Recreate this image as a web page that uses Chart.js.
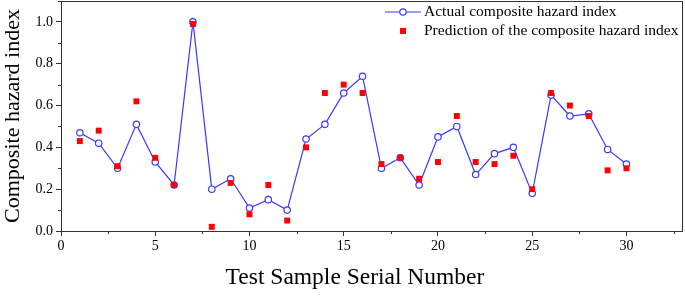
<!DOCTYPE html>
<html>
<head>
<meta charset="utf-8">
<script src="https://cdn.jsdelivr.net/npm/chart.js@4.4.0/dist/chart.umd.min.js"></script>
<style>
  html, body { margin: 0; padding: 0; background: #fff; }
  #wrap { width: 685px; height: 297px; position: relative; }
</style>
</head>
<body>
<div id="wrap"><canvas id="hazardChart"></canvas></div>
<script>
// Test sample serial numbers
const samples = [1, 2, 3, 4, 5, 6, 7, 8, 9, 10, 11, 12, 13, 14, 15,
                 16, 17, 18, 19, 20, 21, 22, 23, 24, 25, 26, 27, 28, 29, 30];

// Actual composite hazard index (blue circles)
const actual = [0.47, 0.42, 0.30, 0.51, 0.33, 0.22, 1.00, 0.20, 0.25, 0.11,
                0.15, 0.10, 0.44, 0.51, 0.66, 0.74, 0.30, 0.35, 0.22, 0.45,
                0.50, 0.27, 0.37, 0.40, 0.18, 0.65, 0.55, 0.56, 0.39, 0.32];

// Predicted composite hazard index (red squares)
const predicted = [0.43, 0.48, 0.31, 0.62, 0.35, 0.22, 0.99, 0.02, 0.23, 0.08,
                   0.22, 0.05, 0.40, 0.66, 0.70, 0.66, 0.32, 0.35, 0.25, 0.33,
                   0.55, 0.33, 0.32, 0.36, 0.20, 0.66, 0.60, 0.55, 0.29, 0.30];

const xTickValues = [0, 5, 10, 15, 20, 25, 30];
const yTickValues = [0, 0.2, 0.4, 0.6, 0.8, 1.0];

const seriesNames = ['Actual composite hazard index', 'Prediction of the composite hazard index'];
const xTitle = 'Test Sample Serial Number';
const yTitle = 'Composite hazard index';

const BLUE = '#3a3aff';
const RED = '#ff0000';
const AXIS = '#333333';
const FONT = '"Liberation Serif", "Times New Roman", serif';

const toPoints = (ys) => ys.map((y, i) => ({ x: samples[i], y: y }));

// frame, minor ticks, x title and in-plot legend
const decorPlugin = {
    id: 'decor',
    afterDraw(chart) {
        const ctx = chart.ctx;
        const area = chart.chartArea;
        const xs = chart.scales.x;
        const ys = chart.scales.y;
        ctx.save();

        // frame around the plot
        ctx.strokeStyle = AXIS;
        ctx.lineWidth = 1;
        ctx.strokeRect(area.left + 0.5, area.top + 0.5, area.right - area.left - 1, area.bottom - area.top);

        // minor ticks
        ctx.beginPath();
        for (let v = 2.5; v < xs.max; v += 5) {
            const px = Math.round(xs.getPixelForValue(v)) + 0.5;
            ctx.moveTo(px, area.bottom);
            ctx.lineTo(px, area.bottom + 3);
        }
        for (let v = 0.1; v < ys.max; v += 0.2) {
            const py = Math.round(ys.getPixelForValue(v)) + 0.5;
            ctx.moveTo(area.left, py);
            ctx.lineTo(area.left - 3, py);
        }
        ctx.stroke();

        // x axis title (sits a little left of the plot centre in the original)
        ctx.fillStyle = '#000';
        ctx.font = '23.5px ' + FONT;
        ctx.textAlign = 'center';
        ctx.textBaseline = 'middle';
        ctx.fillText(xTitle, (area.left + area.right) / 2 - 17, area.bottom + 47);

        // legend
        const lx = area.right - 298;
        const tx = lx + 39;
        const y1 = area.top + 11;
        const y2 = area.top + 30;
        ctx.strokeStyle = BLUE;
        ctx.lineWidth = 1.2;
        ctx.beginPath();
        ctx.moveTo(lx, y1);
        ctx.lineTo(lx + 36, y1);
        ctx.stroke();
        ctx.fillStyle = '#fff';
        ctx.beginPath();
        ctx.arc(lx + 18, y1, 3.2, 0, Math.PI * 2);
        ctx.fill();
        ctx.stroke();
        ctx.fillStyle = RED;
        ctx.fillRect(lx + 15, y2 - 3, 6, 6);

        ctx.fillStyle = '#000';
        ctx.font = '15.5px ' + FONT;
        ctx.textAlign = 'left';
        ctx.fillText(seriesNames[0], tx, y1);
        ctx.fillText(seriesNames[1], tx, y2);
        ctx.restore();
    }
};

const ctx = document.getElementById('hazardChart').getContext('2d');
new Chart(ctx, {
    type: 'scatter',
    data: {
        datasets: [
            {
                label: seriesNames[1],
                data: toPoints(predicted),
                showLine: false,
                pointStyle: 'rect',
                pointRadius: 4.2,
                backgroundColor: RED,
                borderColor: RED,
                borderWidth: 0,
                order: 0
            },
            {
                label: seriesNames[0],
                data: toPoints(actual),
                showLine: true,
                borderColor: BLUE,
                borderWidth: 1.2,
                pointStyle: 'circle',
                pointRadius: 3.2,
                pointBackgroundColor: '#fff',
                pointBorderColor: BLUE,
                pointBorderWidth: 1.2,
                tension: 0,
                order: 1
            }
        ]
    },
    options: {
        responsive: true,
        maintainAspectRatio: false,
        animation: false,
        layout: { autoPadding: false, padding: { top: 1, right: 2, left: 0, bottom: 0 } },
        plugins: {
            legend: { display: false },
            tooltip: { enabled: false }
        },
        scales: {
            x: {
                type: 'linear',
                min: 0,
                max: 33,
                border: { display: false },
                grid: {
                    display: true,
                    drawOnChartArea: false,
                    drawTicks: true,
                    tickLength: 5,
                    tickColor: AXIS
                },
                ticks: {
                    padding: 2,
                    color: '#000',
                    font: { family: FONT, size: 14 },
                    maxRotation: 0,
                    autoSkip: false
                },
                afterBuildTicks(scale) {
                    scale.ticks = xTickValues.map(v => ({ value: v }));
                },
                afterFit(scale) {
                    scale.height = 66;
                    scale.paddingLeft = 0;
                    scale.paddingRight = 0;
                }
            },
            y: {
                min: 0,
                max: 1.1,
                border: { display: false },
                grid: {
                    display: true,
                    drawOnChartArea: false,
                    drawTicks: true,
                    tickLength: 5,
                    tickColor: AXIS
                },
                ticks: {
                    padding: 3,
                    color: '#000',
                    font: { family: FONT, size: 14 },
                    callback: (v) => v.toFixed(1)
                },
                afterBuildTicks(scale) {
                    scale.ticks = yTickValues.map(v => ({ value: v }));
                },
                title: {
                    display: true,
                    text: yTitle,
                    color: '#000',
                    font: { family: FONT, size: 22 },
                    padding: { top: 0, bottom: 0 }
                },
                afterFit(scale) {
                    scale.width = 61;
                    scale.paddingTop = 0;
                    scale.paddingBottom = 0;
                }
            }
        }
    },
    plugins: [decorPlugin]
});
</script>
</body>
</html>
